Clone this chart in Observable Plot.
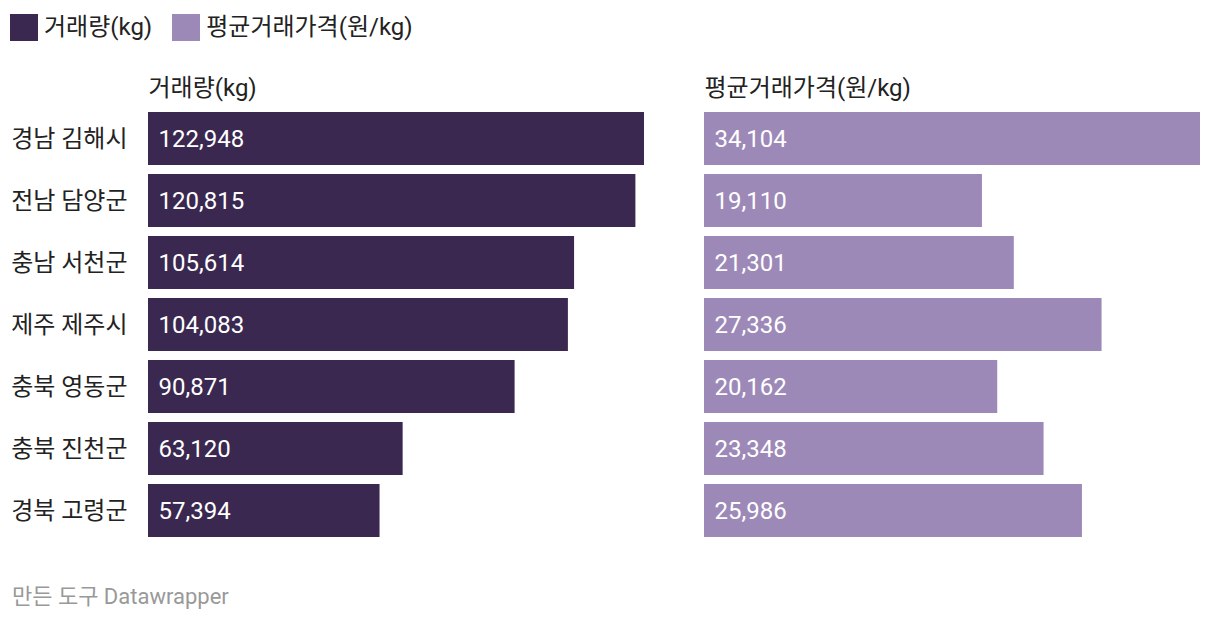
<!DOCTYPE html>
<html>
<head>
<meta charset="utf-8">
<script src="https://cdn.jsdelivr.net/npm/d3@7"></script>
<script src="https://cdn.jsdelivr.net/npm/@observablehq/plot@0.6"></script>
<style>
  html, body { margin: 0; padding: 0; background: #fff; }
  body { width: 1220px; height: 622px; position: relative; overflow: hidden;
         font-family: Roboto, "Noto Sans CJK KR", sans-serif; color: #222; }
  .legend { position: absolute; top: 13px; left: 10px; display: flex; align-items: center; font-size: 24px; line-height: 28px; }
  .legend .sw { width: 28px; height: 27px; display: inline-block; margin-right: 6px; }
  .legend .item { display: flex; align-items: center; margin-right: 20px; }
  #left { position: absolute; left: 0; top: 60px; }
  #right { position: absolute; left: 704px; top: 60px; }
  .footer { position: absolute; left: 12px; top: 583px; font-size: 22px; line-height: 28px; color: #999; }
</style>
</head>
<body>
<div class="legend" id="legend"></div>
<div id="left"></div>
<div id="right"></div>
<div class="footer">만든 도구 Datawrapper</div>
<script>
const regions = ["경남 김해시", "전남 담양군", "충남 서천군", "제주 제주시", "충북 영동군", "충북 진천군", "경북 고령군"];
const volume = [122948, 120815, 105614, 104083, 90871, 63120, 57394];
const price = [34104, 19110, 21301, 27336, 20162, 23348, 25986];
const seriesNames = ["거래량(kg)", "평균거래가격(원/kg)"];
const colors = ["#3a2850", "#9d89b8"];

const legend = document.getElementById("legend");
seriesNames.forEach((n, i) => {
  const it = document.createElement("span");
  it.className = "item";
  it.innerHTML = `<span class="sw" style="background:${colors[i]}"></span>${n}`;
  legend.appendChild(it);
});

const fmt = d3.format(",");
const font = "Roboto, 'Noto Sans CJK KR', sans-serif";

function panel(values, color, title, showY, marginLeft, width) {
  const data = regions.map((r, i) => ({region: r, value: values[i]}));
  return Plot.plot({
    width, height: 482,
    marginLeft, marginRight: 0, marginTop: 52, marginBottom: 5,
    style: {fontFamily: font, fontSize: "24px", color: "#222", background: "transparent"},
    x: {domain: [0, d3.max(values)], axis: null},
    y: {domain: regions, paddingInner: 9/62, paddingOuter: 0, axis: showY ? "left" : null,
        tickSize: 0, tickPadding: 21, label: null},
    marks: [
      Plot.barX(data, {x: "value", y: "region", fill: color}),
      Plot.text(data, {x: 0, y: "region", text: d => fmt(d.value), dx: 10, textAnchor: "start",
                       fill: "white", fontSize: 24}),
      Plot.text([title], {frameAnchor: "top-left", dy: -24, textAnchor: "start", lineAnchor: "middle",
                          fill: "#222", fontSize: 24})
    ]
  });
}

document.getElementById("left").appendChild(panel(volume, colors[0], seriesNames[0], true, 148, 644));
document.getElementById("right").appendChild(panel(price, colors[1], seriesNames[1], false, 0, 496));
</script>
</body>
</html>
